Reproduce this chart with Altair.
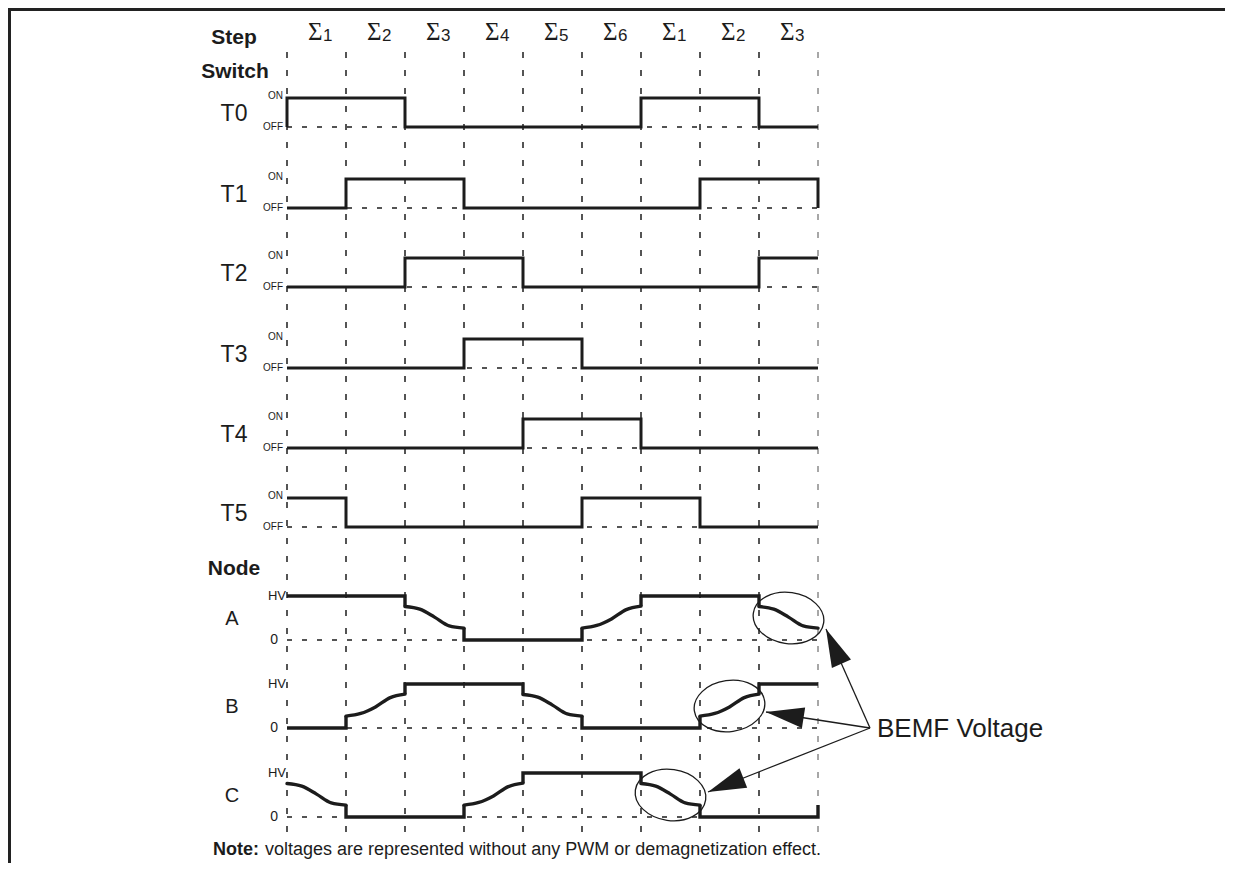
import math
import altair as alt
import pandas as pd

# ---------------- data ----------------
step_bounds = list(range(10))                      # commutation boundaries 0..9
step_sub = ["1", "2", "3", "4", "5", "6", "1", "2", "3"]

switch_names = ["T0", "T1", "T2", "T3", "T4", "T5"]
T0 = [1, 1, 0, 0, 0, 0, 1, 1, 0]
T1 = [0, 1, 1, 0, 0, 0, 0, 1, 1]
T2 = [0, 0, 1, 1, 0, 0, 0, 0, 1]
T3 = [0, 0, 0, 1, 1, 0, 0, 0, 0]
T4 = [0, 0, 0, 0, 1, 1, 0, 0, 0]
T5 = [1, 0, 0, 0, 0, 1, 1, 0, 0]
switch_states = [T0, T1, T2, T3, T4, T5]
switch_lead_in = {"T0": 0}
switch_lead_out = {"T1": 0}

node_names = ["A", "B", "C"]
A = ["H", "H", "F", "L", "L", "R", "H", "H", "F"]
B = ["L", "R", "H", "H", "F", "L", "L", "R", "H"]
C = ["F", "L", "L", "R", "H", "H", "F", "L", "L"]
node_segments = [A, B, C]
node_lead_out = {"C": 0.27}

curve_t = [0.0, 0.25, 0.5, 0.75, 1.0]
fall_level = [0.76, 0.70, 0.52, 0.32, 0.27]
rise_level = [0.27, 0.33, 0.48, 0.69, 0.77]

bemf_step = {"A": 8, "B": 7, "C": 6}

# ---------------- layout ----------------
W, H = 1217, 855
MARGIN = 8
STEP_PX = 59
X0 = 279                      # chart px of boundary 0
switch_base = [127, 208, 287, 368, 448, 527]
switch_amp = 29
node_base = [640, 728, 817]
node_amp = 44
grid_top, grid_bottom = 52, 832

xs = alt.Scale(domain=[-X0 / STEP_PX, (W - X0) / STEP_PX], nice=False, zero=False)
ys = alt.Scale(domain=[MARGIN, MARGIN + H], reverse=True, nice=False, zero=False)


def sx(px):
    return (px - MARGIN - X0) / STEP_PX


def X(field="x"):
    return alt.X(f"{field}:Q", scale=xs, axis=None)


def Y(field="y"):
    return alt.Y(f"{field}:Q", scale=ys, axis=None)


INK = "#1c1c1c"

# ---------------- switch waveforms ----------------
rows = []
for name, states, base in zip(switch_names, switch_states, switch_base):
    k = 0
    pts = []
    if name in switch_lead_in:
        pts.append((0, switch_lead_in[name]))
    for i, lv in enumerate(states):
        pts.append((i, lv))
        pts.append((i + 1, lv))
    if name in switch_lead_out:
        pts.append((9, switch_lead_out[name]))
    for (x, lv) in pts:
        rows.append({"row": name, "k": k, "x": x, "y": base - lv * switch_amp})
        k += 1
switch_df = pd.DataFrame(rows)

# ---------------- node waveforms ----------------
lin_rows, cur_rows = [], []
for name, segs, base in zip(node_names, node_segments, node_base):
    cur = None
    lin_pts = []
    curves = []
    poly = []
    for i, s in enumerate(segs):
        if s in ("H", "L"):
            lv = 1.0 if s == "H" else 0.0
            if cur is not None and cur != lv:
                poly.append((i, cur))
            poly.append((i, lv))
            poly.append((i + 1, lv))
            cur = lv
        else:
            lv_list = fall_level if s == "F" else rise_level
            if cur is not None and cur != lv_list[0]:
                poly.append((i, cur))
                poly.append((i, lv_list[0]))
            if poly:
                lin_pts.append(poly)
            poly = []
            curves.append([(i + t, l) for t, l in zip(curve_t, lv_list)])
            cur = lv_list[-1]
    if name in node_lead_out:
        poly.append((9, cur))
        poly.append((9, node_lead_out[name]))
    if poly:
        lin_pts.append(poly)
    for j, p in enumerate(lin_pts):
        for k, (x, lv) in enumerate(p):
            lin_rows.append({"piece": f"{name}{j}", "k": k, "x": x, "y": base - lv * node_amp})
    for j, p in enumerate(curves):
        for k, (x, lv) in enumerate(p):
            cur_rows.append({"piece": f"{name}c{j}", "k": k, "x": x, "y": base - lv * node_amp})
node_lin_df = pd.DataFrame(lin_rows)
node_cur_df = pd.DataFrame(cur_rows)

# ---------------- grid / baselines ----------------
grid_df = pd.DataFrame({
    "x": step_bounds,
    "y": [grid_top] * len(step_bounds),
    "y2": [grid_bottom] * len(step_bounds),
    "col": [INK] * (len(step_bounds) - 1) + ["#8a8a8a"],
})
base_df = pd.DataFrame({
    "x": [0] * 9, "x2": [9] * 9,
    "y": switch_base + node_base,
})

# ---------------- ellipses & arrows ----------------
ell_df = pd.DataFrame({
    "x": [bemf_step[n] + 0.5 for n in node_names],
    "y": [b - 0.5 * node_amp for b in node_base],
    "angle": [8, 352, 8],
})
conv = (870, 728)
tips = [(826, 629), (766, 712), (708, 792)]
arr_rows = []
for tx, ty in tips:
    dx, dy = tx - conv[0], ty - conv[1]
    ang = math.degrees(math.atan2(dx, -dy)) % 360
    arr_rows.append({"x": sx(tx), "y": ty, "x2": sx(conv[0]), "y2": conv[1], "angle": ang})
arr_df = pd.DataFrame(arr_rows)

# ---------------- text ----------------
label_x = sx(234)
head_df = pd.DataFrame({"x": [sx(234), sx(235), sx(234)], "y": [38, 72, 569],
                        "t": ["Step", "Switch", "Node"]})
sw_lab_df = pd.DataFrame({"x": [label_x] * 6,
                          "y": [b - switch_amp / 2 + 1 for b in switch_base],
                          "t": switch_names})
on_df = pd.DataFrame({"x": [sx(283)] * 6, "y": [b - switch_amp + 1 for b in switch_base], "t": ["ON"] * 6})
off_df = pd.DataFrame({"x": [sx(283)] * 6, "y": switch_base, "t": ["OFF"] * 6})
node_lab_df = pd.DataFrame({"x": [sx(232)] * 3, "y": [b - node_amp / 2 + 1 for b in node_base],
                            "t": node_names})
hv_df = pd.DataFrame({"x": [sx(286)] * 3, "y": [b - node_amp for b in node_base], "t": ["HV"] * 3})
zero_df = pd.DataFrame({"x": [sx(278)] * 3, "y": node_base, "t": ["0"] * 3})
sig_df = pd.DataFrame({"x": [i + 0.5 + 6 / STEP_PX for i in range(9)], "y": [32] * 9,
                       "t": ["Σ"] * 9})
sub_df = pd.DataFrame({"x": [i + 0.5 + 6.5 / STEP_PX for i in range(9)], "y": [36] * 9,
                       "t": step_sub})
bemf_df = pd.DataFrame({"x": [sx(877)], "y": [729], "t": ["BEMF Voltage"]})
note_b_df = pd.DataFrame({"x": [sx(213)], "y": [850], "t": ["Note:"]})
note_df = pd.DataFrame({"x": [sx(265)], "y": [850],
                        "t": ["voltages are represented without any PWM or demagnetization effect."]})

FONT = "Liberation Sans"


def text_layer(df, **kw):
    base = dict(font=FONT, color=INK, baseline="middle")
    base.update(kw)
    return alt.Chart(df).mark_text(**base).encode(x=X(), y=Y(), text="t:N")


layers = []

# frame
layers.append(alt.Chart(pd.DataFrame({"a": [0]})).mark_rule(color="#222", strokeWidth=3).encode(
    x=alt.value(1.5), y=alt.value(0), y2=alt.value(H)))
layers.append(alt.Chart(pd.DataFrame({"a": [0]})).mark_rule(color="#222", strokeWidth=3).encode(
    x=alt.value(0), x2=alt.value(W), y=alt.value(1.5)))

# grid
layers.append(alt.Chart(grid_df).mark_rule(strokeWidth=1.5, strokeDash=[6, 12]).encode(
    x=X(), y=Y(), y2="y2:Q", color=alt.Color("col:N", scale=None)))
# baselines
layers.append(alt.Chart(base_df).mark_rule(strokeWidth=1.3, strokeDash=[5, 10], color=INK).encode(
    x=X(), x2="x2:Q", y=Y()))

# switch waveforms
layers.append(alt.Chart(switch_df).mark_line(color=INK, strokeWidth=3, strokeJoin="miter",
                                             strokeCap="butt").encode(
    x=X(), y=Y(), detail="row:N", order="k:Q"))
# node waveforms
layers.append(alt.Chart(node_lin_df).mark_line(color=INK, strokeWidth=3.4, strokeJoin="miter",
                                               strokeCap="butt").encode(
    x=X(), y=Y(), detail="piece:N", order="k:Q"))
layers.append(alt.Chart(node_cur_df).mark_line(color=INK, strokeWidth=3.4, interpolate="monotone",
                                               strokeCap="round").encode(
    x=X(), y=Y(), detail="piece:N", order="k:Q"))

# ellipses
ELL = "M -1 0 A 1 0.72 0 1 0 1 0 A 1 0.72 0 1 0 -1 0 Z"
layers.append(alt.Chart(ell_df).mark_point(shape=ELL, filled=False, color=INK, strokeWidth=1.3,
                                           size=71 * 71, opacity=1).encode(
    x=X(), y=Y(), angle=alt.Angle("angle:Q", scale=None)))

# arrows
layers.append(alt.Chart(arr_df).mark_rule(color=INK, strokeWidth=1.3).encode(
    x=X(), y=Y(), x2="x2:Q", y2="y2:Q"))
TRI = "M 0 0 L 0.55 2 L -0.55 2 Z"
layers.append(alt.Chart(arr_df).mark_point(shape=TRI, filled=True, color=INK, size=38 * 38,
                                           opacity=1).encode(
    x=X(), y=Y(), angle=alt.Angle("angle:Q", scale=None)))

# text
layers.append(text_layer(head_df, fontSize=21, fontWeight="bold", align="center"))
layers.append(text_layer(sw_lab_df, fontSize=23, align="center"))
layers.append(text_layer(on_df, fontSize=10, align="right", baseline="alphabetic"))
layers.append(text_layer(off_df, fontSize=10, align="right"))
layers.append(text_layer(node_lab_df, fontSize=20, align="center"))
layers.append(text_layer(hv_df, fontSize=13, align="right"))
layers.append(text_layer(zero_df, fontSize=14, align="right"))
layers.append(text_layer(sig_df, fontSize=25, align="right", font="Liberation Serif"))
layers.append(text_layer(sub_df, fontSize=17, align="left"))
layers.append(text_layer(bemf_df, fontSize=26, align="left"))
layers.append(text_layer(note_b_df, fontSize=18, fontWeight="bold", align="left"))
layers.append(text_layer(note_df, fontSize=18, align="left"))

chart = alt.layer(*layers).properties(
    width=W, height=H, padding=0, autosize="none", background="white"
).configure_view(stroke=None)

chart.save("out.html", embed_options={"renderer": "svg", "actions": False})
